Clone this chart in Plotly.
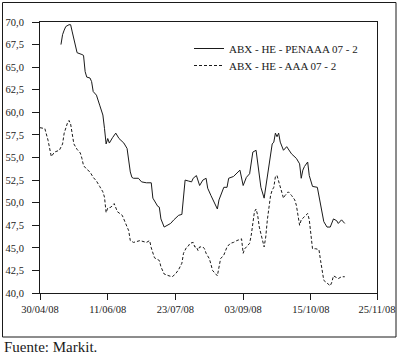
import plotly.graph_objects as go

penaaa_dates = [
    "2008-05-13", "2008-05-14", "2008-05-15", "2008-05-16", "2008-05-18", "2008-05-19",
    "2008-05-20", "2008-05-21", "2008-05-22", "2008-05-23", "2008-05-26", "2008-05-27",
    "2008-05-28", "2008-05-29", "2008-05-31", "2008-06-01", "2008-06-02", "2008-06-04",
    "2008-06-06", "2008-06-08", "2008-06-09", "2008-06-10", "2008-06-11", "2008-06-12",
    "2008-06-14", "2008-06-16", "2008-06-18", "2008-06-19", "2008-06-21", "2008-06-23",
    "2008-06-24", "2008-06-25", "2008-06-26", "2008-06-27", "2008-06-30", "2008-07-02",
    "2008-07-05", "2008-07-08", "2008-07-09", "2008-07-11", "2008-07-12", "2008-07-13",
    "2008-07-14", "2008-07-16", "2008-07-18", "2008-07-20", "2008-07-22", "2008-07-25",
    "2008-07-27", "2008-07-28", "2008-07-29", "2008-07-31", "2008-08-02", "2008-08-03",
    "2008-08-05", "2008-08-07", "2008-08-09", "2008-08-11", "2008-08-12", "2008-08-14",
    "2008-08-16", "2008-08-18", "2008-08-19", "2008-08-21", "2008-08-22", "2008-08-24",
    "2008-08-25", "2008-08-28", "2008-08-30", "2008-09-01", "2008-09-03", "2008-09-05",
    "2008-09-07", "2008-09-08", "2008-09-09", "2008-09-11", "2008-09-12", "2008-09-14",
    "2008-09-16", "2008-09-18", "2008-09-20", "2008-09-21", "2008-09-22", "2008-09-23",
    "2008-09-24", "2008-09-25", "2008-09-26", "2008-09-28", "2008-09-30", "2008-10-03",
    "2008-10-06", "2008-10-08", "2008-10-09", "2008-10-10", "2008-10-11", "2008-10-13",
    "2008-10-14", "2008-10-16", "2008-10-19", "2008-10-21", "2008-10-23", "2008-10-25",
    "2008-10-27", "2008-10-29", "2008-10-31", "2008-11-01", "2008-11-03", "2008-11-05",
]
penaaa_values = [
    67.5, 68.6, 69.1, 69.5, 69.7, 69.7,
    68.9, 68.0, 67.1, 66.6, 66.4, 66.3,
    64.5, 63.9, 63.8, 63.4, 62.3, 61.9,
    60.8, 59.7, 58.2, 56.5, 57.1, 56.6,
    57.2, 57.7, 57.1, 56.9, 56.6, 56.0,
    54.7, 53.4, 52.8, 52.7, 52.7, 52.3,
    52.2, 52.2, 50.5, 49.9, 49.6, 49.5,
    48.2, 47.3, 47.5, 47.7, 48.1, 48.6,
    48.7, 50.6, 52.5, 52.4, 52.3, 52.7,
    53.0, 51.9, 52.5, 52.7, 51.6, 50.8,
    50.1, 49.3, 50.3, 51.4, 51.7, 51.7,
    52.7, 52.9, 53.2, 53.6, 51.9, 52.8,
    53.2, 54.5, 55.6, 55.8, 54.3, 51.7,
    50.5, 52.9, 55.8, 56.5, 56.7, 57.7,
    57.3, 57.7, 56.7, 55.8, 56.2, 55.4,
    54.9, 54.3, 52.7, 53.6, 54.0, 54.5,
    53.0, 51.8, 51.7, 49.9, 47.9, 47.3,
    47.3, 48.2, 48.0, 47.7, 48.1, 47.7,
]

aaa_dates = [
    "2008-04-30", "2008-05-03", "2008-05-05", "2008-05-07", "2008-05-09", "2008-05-12",
    "2008-05-14", "2008-05-15", "2008-05-17", "2008-05-18", "2008-05-19", "2008-05-20",
    "2008-05-21", "2008-05-23", "2008-05-25", "2008-05-26", "2008-05-27", "2008-05-29",
    "2008-05-31", "2008-06-02", "2008-06-04", "2008-06-06", "2008-06-08", "2008-06-09",
    "2008-06-10", "2008-06-11", "2008-06-13", "2008-06-15", "2008-06-17", "2008-06-20",
    "2008-06-22", "2008-06-24", "2008-06-25", "2008-06-27", "2008-07-01", "2008-07-05",
    "2008-07-07", "2008-07-08", "2008-07-10", "2008-07-11", "2008-07-13", "2008-07-14",
    "2008-07-16", "2008-07-19", "2008-07-21", "2008-07-23", "2008-07-25", "2008-07-27",
    "2008-07-28", "2008-07-30", "2008-07-31", "2008-08-01", "2008-08-03", "2008-08-04",
    "2008-08-05", "2008-08-06", "2008-08-07", "2008-08-09", "2008-08-10", "2008-08-11",
    "2008-08-13", "2008-08-14", "2008-08-15", "2008-08-18", "2008-08-19", "2008-08-20",
    "2008-08-22", "2008-08-23", "2008-08-24", "2008-08-26", "2008-08-28", "2008-08-30",
    "2008-09-02", "2008-09-03", "2008-09-04", "2008-09-06", "2008-09-07", "2008-09-08",
    "2008-09-09", "2008-09-10", "2008-09-11", "2008-09-12", "2008-09-13", "2008-09-15",
    "2008-09-16", "2008-09-17", "2008-09-18", "2008-09-20", "2008-09-21", "2008-09-22",
    "2008-09-23", "2008-09-24", "2008-09-25", "2008-09-27", "2008-09-28", "2008-09-29",
    "2008-10-01", "2008-10-03", "2008-10-05", "2008-10-06", "2008-10-07", "2008-10-08",
    "2008-10-09", "2008-10-11", "2008-10-13", "2008-10-14", "2008-10-15", "2008-10-16",
    "2008-10-18", "2008-10-20", "2008-10-21", "2008-10-22", "2008-10-23", "2008-10-25",
    "2008-10-27", "2008-10-28", "2008-10-29", "2008-10-31", "2008-11-01", "2008-11-03",
    "2008-11-05",
]
aaa_values = [
    58.3, 58.2, 56.9, 55.1, 55.6, 55.8,
    56.5, 57.7, 58.8, 59.1, 58.7, 57.8,
    56.5, 55.9, 55.5, 54.9, 54.1, 53.7,
    53.4, 52.8, 52.4, 51.8, 51.2, 50.6,
    48.9, 49.4, 49.5, 49.9, 49.0, 48.6,
    47.7, 46.9, 45.8, 45.6, 45.8, 45.6,
    45.8, 45.0, 43.9, 43.8, 43.6, 42.9,
    42.1, 41.9, 41.8, 42.1, 42.6, 43.3,
    44.4, 45.1, 45.2, 45.5, 45.6, 45.1,
    45.1, 44.7, 45.1, 45.1, 44.9, 44.4,
    43.8, 43.2, 42.5, 41.9, 42.7, 43.8,
    44.2, 44.7, 45.1, 45.5, 45.6, 45.8,
    46.0, 44.4, 44.9, 45.3, 45.5, 46.4,
    47.7, 49.0, 49.3, 48.6, 47.3, 45.8,
    45.1, 46.2, 48.1, 50.8, 51.4, 51.7,
    52.9, 53.0, 52.3, 51.2, 50.5, 50.8,
    51.2, 50.8, 50.3, 49.7, 48.8, 47.5,
    48.1, 48.4, 48.8, 48.1, 46.6, 44.9,
    44.9, 44.8, 43.6, 42.5, 41.4, 41.1,
    40.8, 41.2, 41.9, 41.7, 41.6, 41.8,
    41.8,
]

series_names = ["ABX - HE - PENAAA 07 - 2", "ABX - HE - AAA 07 - 2"]
x_tick_dates = ["2008-04-30", "2008-06-11", "2008-07-23", "2008-09-03", "2008-10-15", "2008-11-25"]
x_tick_labels = ["30/04/08", "11/06/08", "23/07/08", "03/09/08", "15/10/08", "25/11/08"]
y_ticks = [40.0, 42.5, 45.0, 47.5, 50.0, 52.5, 55.0, 57.5, 60.0, 62.5, 65.0, 67.5, 70.0]
source_text = "Fuente: Markit."

FONT = "Liberation Serif"
INK = "#1a1a1a"

W, H = 400, 356
L, R, T, B = 40, 23, 22, 63
PW, PH = W - L - R, H - T - B


def px_x(p):
    return (p - L) / PW


def px_y(p):
    return (H - B - p) / PH


fig = go.Figure()
fig.add_trace(go.Scatter(
    x=penaaa_dates, y=penaaa_values, mode="lines", name=series_names[0],
    line=dict(color=INK, width=1), legend="legend",
))
fig.add_trace(go.Scatter(
    x=aaa_dates, y=aaa_values, mode="lines", name=series_names[1],
    line=dict(color=INK, width=1, dash="3px,2px"), legend="legend2",
))

legend_style = dict(
    xanchor="left", yanchor="middle",
    bgcolor="rgba(0,0,0,0)", borderwidth=0,
    font=dict(family=FONT, size=11, color=INK),
    itemwidth=30,
)

fig.update_layout(
    width=W, height=H,
    margin=dict(l=L, r=R, t=T, b=B, autoexpand=False),
    paper_bgcolor="white", plot_bgcolor="white",
    separators=",.",
    font=dict(family=FONT, size=10.5, color=INK),
    showlegend=True,
    legend=dict(x=px_x(189), y=px_y(48.5), **legend_style),
    legend2=dict(x=px_x(189), y=px_y(65.5), **legend_style),
    xaxis=dict(
        type="date", range=["2008-04-30", "2008-11-25"],
        tickvals=x_tick_dates, ticktext=x_tick_labels,
        ticks="outside", ticklen=6, tickcolor=INK, tickwidth=1,
        showline=True, linecolor=INK, linewidth=1, mirror=True,
        showgrid=False, zeroline=False, automargin=False,
        tickfont=dict(family=FONT, size=10.5, color=INK),
    ),
    yaxis=dict(
        range=[40, 70], tickvals=y_ticks, tickformat=".1f",
        ticks="outside", ticklen=7, tickcolor=INK, tickwidth=1,
        showline=True, linecolor=INK, linewidth=1, mirror=True,
        showgrid=False, zeroline=False, ticklabelstandoff=6, automargin=False,
        tickfont=dict(family=FONT, size=10.5, color=INK),
    ),
    shapes=[dict(
        type="rect", xref="paper", yref="paper",
        x0=px_x(2.5), x1=px_x(396), y0=px_y(337), y1=px_y(2.5),
        line=dict(color=INK, width=1), fillcolor="rgba(0,0,0,0)", layer="below",
    )],
    annotations=[dict(
        text=source_text, xref="paper", yref="paper",
        x=px_x(2), y=px_y(347), xanchor="left", yanchor="middle",
        showarrow=False, font=dict(family=FONT, size=15, color=INK),
    )],
)

fig.write_html(
    "out.html",
    config={"displayModeBar": False},
    post_script="document.body.style.margin='0';document.body.style.overflow='hidden';",
)
